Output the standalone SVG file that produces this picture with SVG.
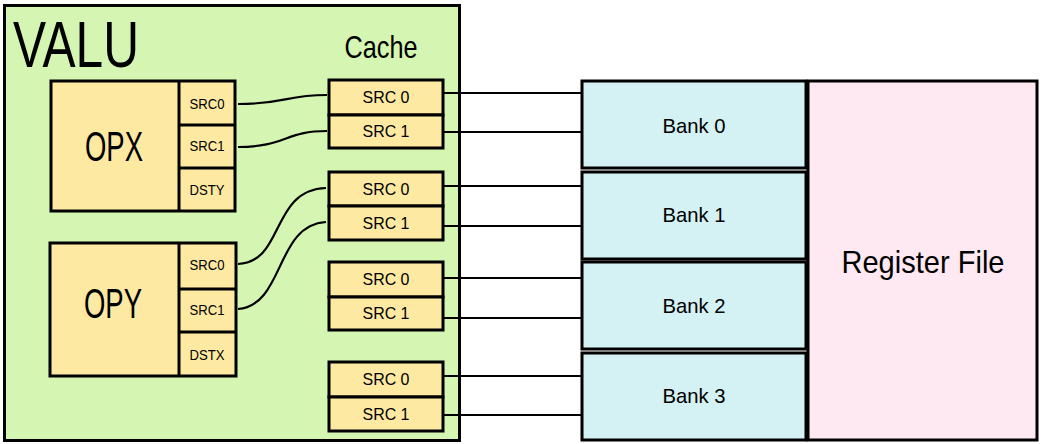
<svg xmlns="http://www.w3.org/2000/svg" width="1044" height="444" viewBox="0 0 1044 444">
<style>
.bx{stroke:#000;stroke-width:3}
.g{fill:#d5f5b2}
.y{fill:#fee9a2}
.c{fill:#d4f1f3}
.p{fill:#fee8f1}
.t{font-family:"Liberation Sans",Arial,sans-serif;fill:#000;text-anchor:middle}
.w{fill:none;stroke:#000;stroke-width:2.2}
</style>
<g id="valu">
<rect class="bx g" x="4.5" y="5.5" width="455" height="435" stroke-width="2.5"/>
<text class="t" x="76" y="67" font-size="64" textLength="126" lengthAdjust="spacingAndGlyphs">VALU</text>
<text class="t" x="381" y="58" font-size="32" textLength="73" lengthAdjust="spacingAndGlyphs">Cache</text>
</g>
<g id="opx">
<rect class="bx y" x="51" y="81" width="184" height="130"/>
<line class="bx" x1="179" y1="81" x2="179" y2="211"/>
<line class="bx" x1="179" y1="125" x2="235" y2="125"/>
<line class="bx" x1="179" y1="168" x2="235" y2="168"/>
<text class="t" x="114" y="161" font-size="42" textLength="58" lengthAdjust="spacingAndGlyphs">OPX</text>
<text class="t" x="207" y="109" font-size="14" textLength="35" lengthAdjust="spacingAndGlyphs">SRC0</text>
<text class="t" x="207" y="151" font-size="14" textLength="35" lengthAdjust="spacingAndGlyphs">SRC1</text>
<text class="t" x="207" y="195" font-size="14" textLength="35" lengthAdjust="spacingAndGlyphs">DSTY</text>
</g>
<g id="opy">
<rect class="bx y" x="50" y="243" width="186" height="133"/>
<line class="bx" x1="179" y1="243" x2="179" y2="376"/>
<line class="bx" x1="179" y1="289" x2="236" y2="289"/>
<line class="bx" x1="179" y1="332" x2="236" y2="332"/>
<text class="t" x="113" y="318" font-size="42" textLength="58" lengthAdjust="spacingAndGlyphs">OPY</text>
<text class="t" x="207" y="270" font-size="14" textLength="35" lengthAdjust="spacingAndGlyphs">SRC0</text>
<text class="t" x="207" y="315" font-size="14" textLength="35" lengthAdjust="spacingAndGlyphs">SRC1</text>
<text class="t" x="207" y="360" font-size="14" textLength="35" lengthAdjust="spacingAndGlyphs">DSTX</text>
</g>
<g id="cache0">
<rect class="bx y" x="329" y="80" width="114" height="35"/>
<rect class="bx y" x="329" y="115" width="114" height="33"/>
<text class="t" x="386" y="103" font-size="17" textLength="47" lengthAdjust="spacingAndGlyphs">SRC 0</text>
<text class="t" x="386" y="137" font-size="17" textLength="47" lengthAdjust="spacingAndGlyphs">SRC 1</text>
</g>
<g id="cache1">
<rect class="bx y" x="329" y="172" width="114" height="34"/>
<rect class="bx y" x="329" y="206" width="114" height="34"/>
<text class="t" x="386" y="195" font-size="17" textLength="47" lengthAdjust="spacingAndGlyphs">SRC 0</text>
<text class="t" x="386" y="229" font-size="17" textLength="47" lengthAdjust="spacingAndGlyphs">SRC 1</text>
</g>
<g id="cache2">
<rect class="bx y" x="329" y="262" width="114" height="35"/>
<rect class="bx y" x="329" y="297" width="114" height="33"/>
<text class="t" x="386" y="285" font-size="17" textLength="47" lengthAdjust="spacingAndGlyphs">SRC 0</text>
<text class="t" x="386" y="319" font-size="17" textLength="47" lengthAdjust="spacingAndGlyphs">SRC 1</text>
</g>
<g id="cache3">
<rect class="bx y" x="329" y="362" width="114" height="35"/>
<rect class="bx y" x="329" y="397" width="114" height="34"/>
<text class="t" x="386" y="385" font-size="17" textLength="47" lengthAdjust="spacingAndGlyphs">SRC 0</text>
<text class="t" x="386" y="420" font-size="17" textLength="47" lengthAdjust="spacingAndGlyphs">SRC 1</text>
</g>
<g id="bank0">
<rect class="bx c" x="582" y="81" width="224" height="87"/>
<text class="t" x="694" y="133" font-size="21" textLength="63" lengthAdjust="spacingAndGlyphs">Bank 0</text>
</g>
<g id="bank1">
<rect class="bx c" x="582" y="172" width="224" height="87"/>
<text class="t" x="694" y="222" font-size="21" textLength="63" lengthAdjust="spacingAndGlyphs">Bank 1</text>
</g>
<g id="bank2">
<rect class="bx c" x="582" y="262" width="224" height="87"/>
<text class="t" x="694" y="313" font-size="21" textLength="63" lengthAdjust="spacingAndGlyphs">Bank 2</text>
</g>
<g id="bank3">
<rect class="bx c" x="582" y="353" width="224" height="87"/>
<text class="t" x="694" y="403" font-size="21" textLength="63" lengthAdjust="spacingAndGlyphs">Bank 3</text>
</g>
<g id="regfile">
<rect class="bx p" x="808" y="81" width="229" height="359" stroke-width="2.5"/>
<text class="t" x="923" y="273" font-size="32" textLength="163" lengthAdjust="spacingAndGlyphs">Register File</text>
</g>
<g id="connectors">
<path class="w" d="M238,104 C285,104 285,95 327,95"/>
<path class="w" d="M238,147 C285,147 285,131 327,131"/>
<path class="w" d="M238,264 C285,262 270,190 326,188"/>
<path class="w" d="M238,309 C285,305 275,225 326,222"/>
<path class="w" d="M443,93 H582 M443,132 H582 M443,186 H582 M443,226 H582 M443,278 H582 M443,318 H582 M443,376 H582 M443,415 H582"/>
</g>
</svg>
